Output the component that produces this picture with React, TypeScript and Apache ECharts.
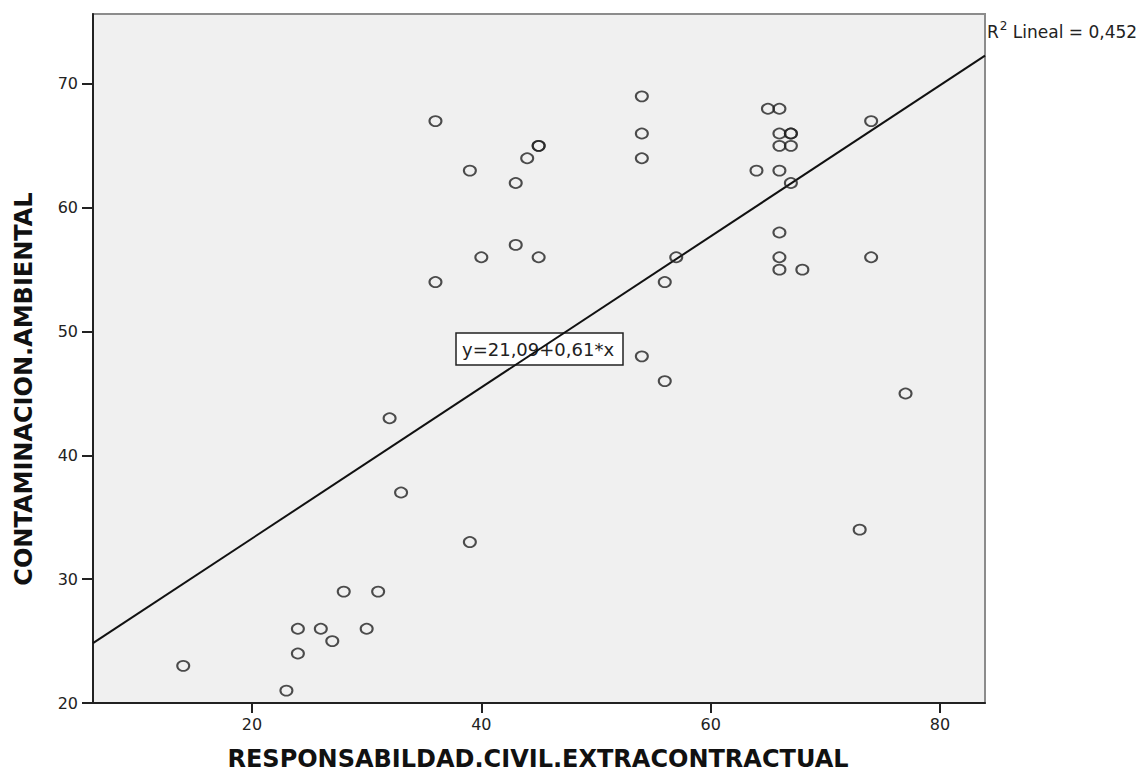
import React, { useEffect, useRef } from "react";
import * as echarts from "echarts";

// RESPONSABILDAD.CIVIL.EXTRACONTRACTUAL (x) and CONTAMINACION.AMBIENTAL (y)
const responsabilidad = [14, 23, 24, 24, 26, 27, 28, 30, 31, 32, 33, 36, 36, 39, 39, 40, 43, 43, 44, 45, 45, 45, 54, 54, 54, 54, 56, 56, 57, 64, 65, 66, 66, 67, 67, 66, 67, 66, 67, 66, 66, 66, 68, 73, 74, 74, 77];
const contaminacion = [23, 21, 26, 24, 26, 25, 29, 26, 29, 43, 37, 67, 54, 63, 33, 56, 62, 57, 64, 65, 65, 56, 69, 66, 64, 48, 54, 46, 56, 63, 68, 68, 66, 66, 66, 65, 65, 63, 62, 58, 56, 55, 55, 34, 67, 56, 45];

const xTicks = [20, 40, 60, 80];
const yTicks = [20, 30, 40, 50, 60, 70];
const xRange = [6.13, 83.93];
const yRange = [20, 75.65];
// tick-only ranges (first and last tick), used to place tick marks on helper axes
const xTickRange = [20, 80];
const yTickRange = [20, 70];

const intercept = 21.09;
const slope = 0.61;
const equationText = "y=21,09+0,61*x";
const r2Text = "0,452";

const FONT = "DejaVu Sans";
const AXIS_COLOR = "#222";

const W = 1141;
const H = 772;
const G = { left: 93, top: 14, right: 156, bottom: 69 };

export default function App() {
  const ref = useRef<HTMLDivElement>(null);
  useEffect(() => {
    document.body.style.margin = "0";
    const chart = echarts.init(ref.current!, null, { renderer: "svg" });
    const points = responsabilidad.map((x, i) => [x, contaminacion[i]]);
    const linePts = [
      [xRange[0], intercept + slope * xRange[0]],
      [xRange[1], intercept + slope * xRange[1]],
    ];

    // helper grids with the same pixel scale as the main grid, spanning only the tick range
    const plotW = W - G.left - G.right;
    const plotH = H - G.top - G.bottom;
    const kx = plotW / (xRange[1] - xRange[0]);
    const ky = plotH / (yRange[1] - yRange[0]);
    const gxLeft = G.left + (xTickRange[0] - xRange[0]) * kx;
    const gxRight = G.right + (xRange[1] - xTickRange[1]) * kx;
    const gyTop = G.top + (yRange[1] - yTickRange[1]) * ky;
    const gyBottom = G.bottom + (yTickRange[0] - yRange[0]) * ky;

    const tickLine = { color: AXIS_COLOR, width: 2 };

    chart.setOption({
      animation: false,
      backgroundColor: "#ffffff",
      grid: [
        {
          left: G.left,
          top: G.top,
          right: G.right,
          bottom: G.bottom,
          show: true,
          backgroundColor: "#f0f0f0",
          borderColor: "#8c8c8c",
          borderWidth: 2,
        },
        { left: gxLeft, top: G.top, right: gxRight, bottom: G.bottom, show: false },
        { left: G.left, top: gyTop, right: G.right, bottom: gyBottom, show: false },
      ],
      xAxis: [
        {
          type: "value",
          gridIndex: 0,
          min: xRange[0],
          max: xRange[1],
          splitLine: { show: false },
          axisLine: { show: true, onZero: false, lineStyle: { color: AXIS_COLOR, width: 2 } },
          axisTick: { show: false },
          axisLabel: {
            customValues: xTicks,
            margin: 13,
            color: AXIS_COLOR,
            fontFamily: FONT,
            fontSize: 16,
          },
        },
        {
          type: "value",
          gridIndex: 1,
          min: xTickRange[0],
          max: xTickRange[1],
          interval: 20,
          splitLine: { show: false },
          axisLine: { show: false, onZero: false },
          axisTick: { show: true, length: 10, lineStyle: tickLine },
          axisLabel: { show: false },
        },
        { type: "value", gridIndex: 2, min: xRange[0], max: xRange[1], show: false },
      ],
      yAxis: [
        {
          type: "value",
          gridIndex: 0,
          min: yRange[0],
          max: yRange[1],
          splitLine: { show: false },
          axisLine: { show: true, onZero: false, lineStyle: { color: AXIS_COLOR, width: 2 } },
          axisTick: { show: false },
          axisLabel: {
            customValues: yTicks,
            margin: 15,
            color: AXIS_COLOR,
            fontFamily: FONT,
            fontSize: 16,
          },
        },
        { type: "value", gridIndex: 1, min: yRange[0], max: yRange[1], show: false },
        {
          type: "value",
          gridIndex: 2,
          min: yTickRange[0],
          max: yTickRange[1],
          interval: 10,
          splitLine: { show: false },
          axisLine: { show: false, onZero: false },
          axisTick: { show: true, length: 11, lineStyle: tickLine },
          axisLabel: { show: false },
        },
      ],
      series: [
        {
          type: "line",
          xAxisIndex: 0,
          yAxisIndex: 0,
          data: linePts,
          symbol: "none",
          lineStyle: { color: "#111", width: 2 },
          z: 2,
        },
        {
          type: "scatter",
          xAxisIndex: 0,
          yAxisIndex: 0,
          data: points,
          symbol: "circle",
          symbolSize: [12, 10],
          itemStyle: { color: "rgba(0,0,0,0)", borderColor: "#222", borderWidth: 1.9 },
          z: 3,
        },
      ],
      graphic: [
        {
          type: "group",
          z: 10,
          children: [
            {
              type: "rect",
              shape: { x: 456, y: 333, width: 167, height: 32 },
              style: { fill: "#ffffff", stroke: "#222", lineWidth: 1.5 },
            },
            {
              type: "text",
              x: 462,
              y: 349,
              style: {
                text: equationText,
                fontFamily: FONT,
                fontSize: 18,
                fill: "#222",
                verticalAlign: "middle",
                align: "left",
              },
            },
          ],
        },
        {
          type: "text",
          x: 987,
          y: 30,
          style: {
            text: "{a|R}{s|2}{a| Lineal = " + r2Text + "}",
            verticalAlign: "middle",
            rich: {
              a: { fontFamily: FONT, fontSize: 17, fill: "#222", color: "#222", verticalAlign: "bottom", lineHeight: 20 },
              s: { fontFamily: FONT, fontSize: 12, fill: "#222", color: "#222", verticalAlign: "top", lineHeight: 20, padding: [0, 0, 6, 1] },
            },
          },
        },
        {
          type: "text",
          x: 538,
          y: 759,
          style: {
            text: "RESPONSABILDAD.CIVIL.EXTRACONTRACTUAL",
            fontFamily: FONT,
            fontWeight: "bold",
            fontSize: 24,
            fill: "#111",
            align: "center",
            verticalAlign: "middle",
          },
        },
        {
          type: "text",
          x: 24,
          y: 389,
          rotation: Math.PI / 2,
          style: {
            text: "CONTAMINACION.AMBIENTAL",
            fontFamily: FONT,
            fontWeight: "bold",
            fontSize: 24,
            fill: "#111",
            align: "center",
            verticalAlign: "middle",
          },
        },
      ],
    });

    return () => chart.dispose();
  }, []);
  return <div ref={ref} style={{ width: W, height: H }} />;
}
